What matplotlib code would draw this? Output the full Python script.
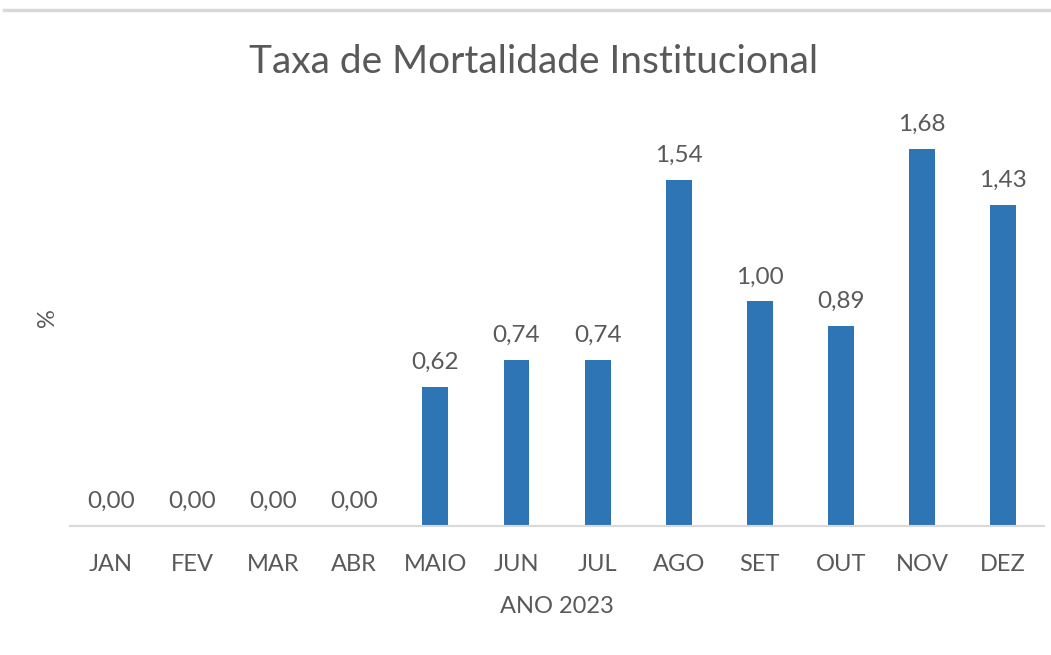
import matplotlib.pyplot as plt
from matplotlib.lines import Line2D

# Dados do gráfico
meses = ['JAN', 'FEV', 'MAR', 'ABR', 'MAIO', 'JUN', 'JUL', 'AGO', 'SET', 'OUT', 'NOV', 'DEZ']
taxas = [0.00, 0.00, 0.00, 0.00, 0.62, 0.74, 0.74, 1.54, 1.00, 0.89, 1.68, 1.43]

plt.rcParams['font.family'] = ['Lato', 'DejaVu Sans']
cinza = '#595959'

fig = plt.figure(figsize=(10.51, 6.55), dpi=100)
ax = fig.add_axes([0.067, 0.197, 0.926, 0.617])

x = range(len(meses))
barras = ax.bar(x, taxas, width=0.32, color='#2E75B6')

# Rótulos de dados com vírgula decimal
for b, v in zip(barras, taxas):
    ax.annotate('{:.2f}'.format(v).replace('.', ','),
                (b.get_x() + b.get_width() / 2, v),
                xytext=(0, 10), textcoords='offset points',
                ha='center', va='bottom', fontsize=17.5, color=cinza)

ax.set_xlim(-0.5, len(meses) - 0.5)
ax.set_ylim(0, 1.8)
ax.set_xticks(list(x))
ax.set_xticklabels(meses, fontsize=17, color=cinza)
ax.tick_params(axis='x', length=0, pad=20)
ax.set_yticks([])
for lado in ['top', 'right', 'left']:
    ax.spines[lado].set_visible(False)
ax.spines['bottom'].set_color('#d9d9d9')
ax.spines['bottom'].set_linewidth(1.5)

ax.set_xlabel('ANO 2023', fontsize=17, color=cinza, labelpad=15)
ax.set_ylabel('%', fontsize=17, color=cinza, va='center')
ax.yaxis.set_label_coords(-0.024, 0.515)

fig.text(0.508, 0.905, 'Taxa de Mortalidade Institucional',
         ha='center', va='center', fontsize=28, color=cinza)

# linha cinza no topo
fig.add_artist(Line2D([0.004, 1], [0.984, 0.984], transform=fig.transFigure,
                      color='#d9d9d9', linewidth=2.5))

fig.savefig('out.png', dpi=100, facecolor='white')
